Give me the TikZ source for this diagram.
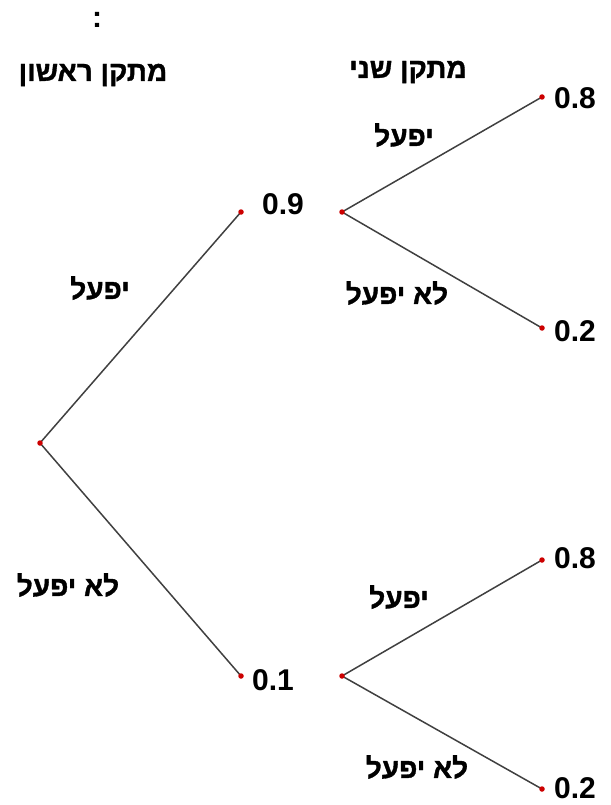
\documentclass[tikz,border=0pt]{standalone}
\usepackage{fontspec}
\setmainfont{Liberation Sans}
\newfontfamily\heb[Script=Hebrew,BoldFeatures={FakeBold=1.2}]{Liberation Sans}
\TeXXeTstate=1
\begin{document}
\begin{tikzpicture}[x=1pt,y=-1pt,
  dot/.style={circle,fill=red!80!black,inner sep=0pt,minimum size=5.5pt},
  branch/.style={draw=black!75,line width=1.5pt},
  num/.style={font=\fontsize{30}{34}\selectfont\bfseries,inner sep=0pt},
  lbl/.style={font=\heb\fontsize{28}{32}\selectfont\bfseries,inner sep=0pt}]
\useasboundingbox (0,0) rectangle (610,805);
% dots
\coordinate (r) at (40,443);
\coordinate (a) at (241,212);
\coordinate (b) at (241,676);
\coordinate (a2) at (342,212);
\coordinate (b2) at (342,676);
\coordinate (l1) at (542,97);
\coordinate (l2) at (542,328);
\coordinate (l3) at (542,560);
\coordinate (l4) at (542,789);
% branches
\draw[branch] (r) -- (a);
\draw[branch] (r) -- (b);
\draw[branch] (a2) -- (l1);
\draw[branch] (a2) -- (l2);
\draw[branch] (b2) -- (l3);
\draw[branch] (b2) -- (l4);
\foreach \p in {r,a,b,a2,b2,l1,l2,l3,l4} \node[dot] (d\p) at (\p) {};
% titles
\node[num] (colon) at (97,20) {:};
\node[lbl] (t1) at (93,75) {\beginR מתקן ראשון\endR};
\node[lbl] (t2) at (408,72) {\beginR מתקן שני\endR};
% branch labels
\node[lbl] (e1) at (100,288) {\beginR יפעל\endR};
\node[lbl] (e2) at (68,585) {\beginR לא יפעל\endR};
\node[lbl] (e3) at (404,135) {\beginR יפעל\endR};
\node[lbl] (e4) at (397,293) {\beginR לא יפעל\endR};
\node[lbl] (e5) at (399,597) {\beginR יפעל\endR};
\node[lbl] (e6) at (417,767) {\beginR לא יפעל\endR};
% numbers
\node[num] (n1) at (283,204) {0.9};
\node[num] (n2) at (273,680) {0.1};
\node[num] (n3) at (575,98) {0.8};
\node[num] (n4) at (575,331) {0.2};
\node[num] (n5) at (575,558) {0.8};
\node[num] (n6) at (575,788) {0.2};
\end{tikzpicture}
\end{document}
